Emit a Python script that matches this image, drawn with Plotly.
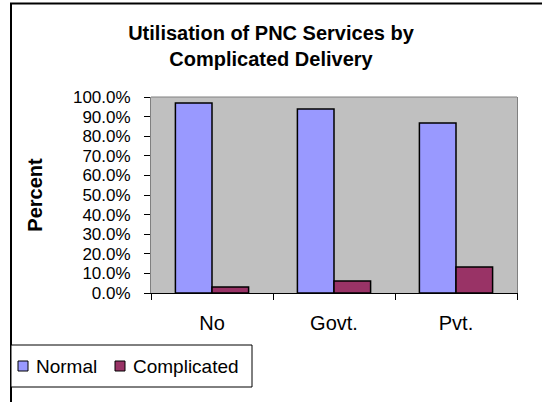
import plotly.graph_objects as go

# Place of delivery categories and utilisation share (%) by delivery type
categories = ["No", "Govt.", "Pvt."]
series_names = ["Normal", "Complicated"]
normal = [96.9, 93.9, 86.7]
complicated = [3.1, 6.1, 13.3]
y_ticks = [0, 10, 20, 30, 40, 50, 60, 70, 80, 90, 100]

FONT = "Arial, Liberation Sans, sans-serif"
COLORS = ["#9999FF", "#993366"]

fig = go.Figure()
for name, values, color in zip(series_names, [normal, complicated], COLORS):
    fig.add_trace(go.Bar(
        name=name, x=categories, y=values, showlegend=False,
        marker=dict(color=color, line=dict(color="#000000", width=1.5)),
    ))

# pixel -> paper helpers for the decorations outside the plot area
L, R, T, B = 151, 25, 97, 109
W, H = 542, 402
pw, ph = W - L - R, H - T - B


def px(x):
    return (x - L) / pw


def py(y):
    return (H - B - y) / ph


shapes = [
    # top edge of the plot area
    dict(type="line", xref="paper", yref="paper", x0=0, x1=1, y0=1, y1=1,
         line=dict(color="#808080", width=1)),
    # outer chart frame (continues past the right and bottom edges)
    dict(type="rect", xref="paper", yref="paper",
         x0=px(11), x1=px(W + 20), y0=py(3.5), y1=py(H + 20),
         line=dict(color="#000000", width=2), fillcolor="rgba(0,0,0,0)",
         layer="above"),
    # legend box
    dict(type="rect", xref="paper", yref="paper",
         x0=px(11), x1=px(252), y0=py(345), y1=py(387),
         line=dict(color="#000000", width=1), fillcolor="#FFFFFF"),
]
annotations = []

# compact legend: swatch followed by the series name
legend_swatch_x = [18, 115]
legend_y = 366
for name, color, sx in zip(series_names, COLORS, legend_swatch_x):
    shapes.append(dict(
        type="rect", xref="paper", yref="paper",
        x0=px(sx), x1=px(sx + 10), y0=py(legend_y - 5), y1=py(legend_y + 5),
        line=dict(color="#000000", width=1), fillcolor=color,
    ))
    annotations.append(dict(
        text=name, xref="paper", yref="paper",
        x=px(sx + 16), y=py(legend_y), xanchor="left", yanchor="middle",
        showarrow=False, font=dict(size=19, family=FONT, color="#000000"),
    ))

fig.update_layout(
    width=W, height=H,
    margin=dict(l=L, r=R, t=T, b=B, autoexpand=False),
    paper_bgcolor="#FFFFFF",
    plot_bgcolor="#C0C0C0",
    font=dict(family=FONT, color="#000000", size=20),
    barmode="group",
    bargap=0.4,
    bargroupgap=0,
    title=dict(
        text="<b>Utilisation of PNC Services by<br>Complicated Delivery</b>",
        font=dict(size=20, family=FONT, color="#000000"),
        x=0.5, xanchor="center", xref="container",
        y=1 - 40 / H, yanchor="top", yref="container",
    ),
    showlegend=False,
    xaxis=dict(
        type="category",
        showline=True, linecolor="#000000", linewidth=1,
        ticks="outside", ticklen=6, tickcolor="#000000",
        tickson="boundaries",
        ticklabelstandoff=12,
        tickfont=dict(size=20),
        showgrid=False, zeroline=False,
    ),
    yaxis=dict(
        range=[0, 100],
        tickvals=y_ticks,
        ticktext=[f"{v:.1f}%" for v in y_ticks],
        showline=True, linecolor="#808080", linewidth=1, mirror=True,
        ticks="outside", ticklen=6, tickcolor="#000000",
        ticklabelstandoff=10,
        tickfont=dict(size=17),
        showgrid=False, zeroline=False,
        title=dict(text="<b>Percent</b>", font=dict(size=20), standoff=24),
    ),
    shapes=shapes,
    annotations=annotations,
)

fig.write_html("out.html")
